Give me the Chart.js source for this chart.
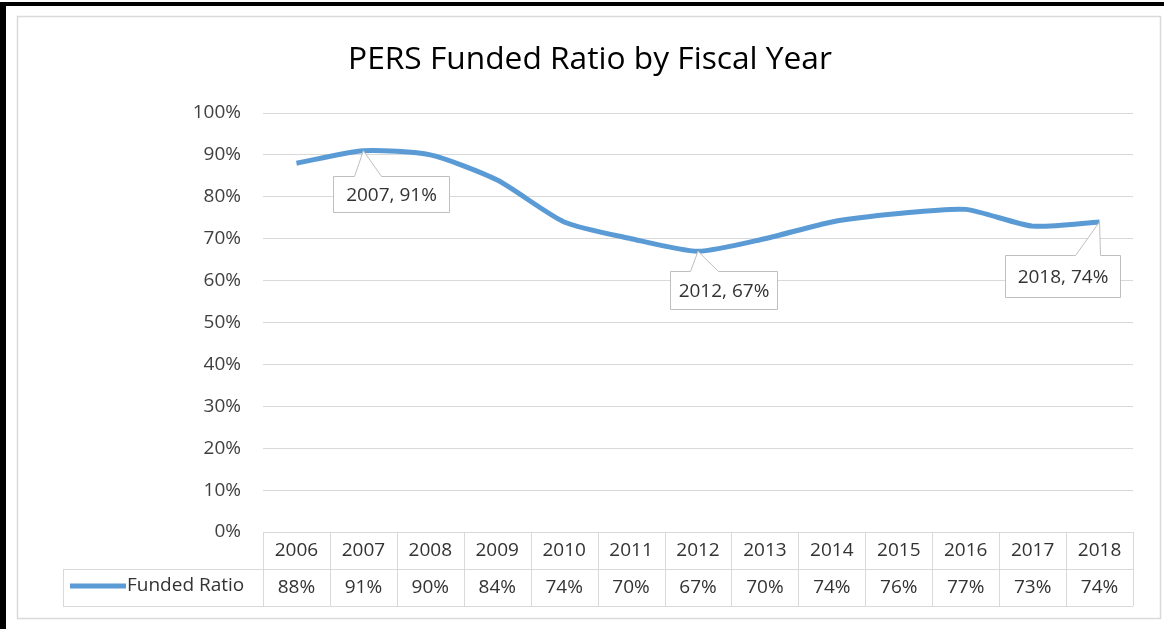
<!DOCTYPE html>
<html><head><meta charset="utf-8">
<script src="https://cdn.jsdelivr.net/npm/chart.js@4.4.1/dist/chart.umd.min.js"></script>
<style>html,body{margin:0;padding:0;background:#fff;}#wrap{width:1164px;height:629px;position:relative;}</style>
</head><body><div id="wrap"><canvas id="c" width="1164" height="629"></canvas></div>
<script>
const years = ['2006','2007','2008','2009','2010','2011','2012','2013','2014','2015','2016','2017','2018'];
const fundedRatio = [88,91,90,84,74,70,67,70,74,76,77,73,74];
const seriesName = 'Funded Ratio';
const titleText = 'PERS Funded Ratio by Fiscal Year';
const calloutYears = ['2007','2012','2018'];

const FONT = "'Open Sans', 'Noto Sans', sans-serif";
const TXT = '#333333';
const GRID = '#d9d9d9';
const LINE = '#5b9bd5';

// callout styling (box offsets relative to point, wedge base relative to box left)
const calloutStyle = {
  '2007': {dx: -30, dy: 25, w: 116, h: 36, b1: 21, b2: 48},
  '2012': {dx: -28, dy: 20, w: 107, h: 38, b1: 20, b2: 48},
  '2018': {dx: -95, dy: 33, w: 115, h: 42, b1: 70, b2: 95}
};

const decor = {
  id: 'decor',
  beforeDraw(chart) {
    const c = chart.ctx;
    c.save();
    c.fillStyle = '#fff';
    c.fillRect(0, 0, chart.width, chart.height);
    c.fillStyle = '#000';
    c.fillRect(0, 2, chart.width, 4);
    c.fillRect(0, 2, 6, chart.height);
    c.strokeStyle = GRID; c.lineWidth = 1.5;
    c.strokeRect(17.5, 16.5, 1143, 602);
    let fs = 28;
    c.font = fs + 'px ' + FONT;
    const w = c.measureText(titleText).width;
    fs = fs * 484 / w;
    c.font = fs + 'px ' + FONT;
    c.fillStyle = '#000';
    c.textAlign = 'center'; c.textBaseline = 'middle';
    c.fillText(titleText, 590, 60);
    c.restore();
  },
  afterDraw(chart) {
    const c = chart.ctx;
    const xs = chart.scales.x;
    const area = chart.chartArea;
    const n = years.length;
    const step = (area.right - area.left) / n;
    const top = area.bottom, mid = top + 37, bot = top + 74;
    c.save();
    c.strokeStyle = GRID; c.lineWidth = 1;
    c.beginPath();
    c.moveTo(area.left, top + 0.5); c.lineTo(area.right, top + 0.5);
    c.moveTo(63, mid + 0.5); c.lineTo(area.right, mid + 0.5);
    c.moveTo(63, bot + 0.5); c.lineTo(area.right, bot + 0.5);
    for (let i = 0; i <= n; i++) {
      const x = Math.round(area.left + i * step) + 0.5;
      c.moveTo(x, top); c.lineTo(x, bot);
    }
    c.moveTo(63.5, mid); c.lineTo(63.5, bot);
    c.stroke();
    c.fillStyle = TXT;
    c.font = '19px ' + FONT;
    c.textAlign = 'center'; c.textBaseline = 'middle';
    fundedRatio.forEach((v, i) => {
      c.fillText(v + '%', xs.getPixelForValue(i), mid + 19);
    });
    c.strokeStyle = LINE; c.lineWidth = 5; c.lineCap = 'butt';
    c.beginPath(); c.moveTo(70, mid + 17); c.lineTo(126, mid + 17); c.stroke();
    c.textAlign = 'left';
    c.fillText(seriesName, 127, mid + 17);
    const meta = chart.getDatasetMeta(0);
    calloutYears.forEach(yr => {
      const i = years.indexOf(yr);
      const p = meta.data[i];
      const s = calloutStyle[yr];
      const bx = Math.round(p.x + s.dx) + 0.5, by = Math.round(p.y + s.dy) + 0.5;
      c.beginPath();
      c.moveTo(bx, by);
      c.lineTo(bx + s.b1, by);
      c.lineTo(p.x, p.y);
      c.lineTo(bx + s.b2, by);
      c.lineTo(bx + s.w, by);
      c.lineTo(bx + s.w, by + s.h);
      c.lineTo(bx, by + s.h);
      c.closePath();
      c.fillStyle = '#fff'; c.fill();
      c.strokeStyle = '#bfbfbf'; c.lineWidth = 1; c.stroke();
      c.fillStyle = TXT;
      c.font = '19px ' + FONT;
      c.textAlign = 'center'; c.textBaseline = 'middle';
      c.fillText(yr + ', ' + fundedRatio[i] + '%', bx + s.w / 2, by + s.h / 2 + 1);
    });
    c.restore();
  }
};

new Chart(document.getElementById('c'), {
  type: 'line',
  data: {
    labels: years,
    datasets: [{
      label: seriesName,
      data: fundedRatio.map(v => v / 100),
      borderColor: LINE,
      borderWidth: 5,
      pointRadius: 0,
      tension: 0.22,
      fill: false
    }]
  },
  options: {
    responsive: false,
    animation: false,
    devicePixelRatio: 1,
    layout: {padding: {left: 17, right: 31, top: 113, bottom: 0}},
    plugins: {legend: {display: false}, title: {display: false}, tooltip: {enabled: false}},
    scales: {
      x: {
        offset: true,
        grid: {display: false, drawTicks: false},
        border: {display: false},
        ticks: {color: TXT, font: {family: FONT, size: 19}, padding: 7, maxRotation: 0, autoSkip: false},
        afterFit(s) { s.height = 97; }
      },
      y: {
        min: 0, max: 1,
        grid: {color: GRID, drawTicks: false, lineWidth: 1},
        border: {display: false},
        ticks: {stepSize: 0.1, color: '#404040', font: {family: FONT, size: 19}, padding: 22,
          callback: v => Math.round(v * 100) + '%'},
        afterFit(s) { s.width = 246; }
      }
    }
  },
  plugins: [decor]
});
</script>
</body></html>
